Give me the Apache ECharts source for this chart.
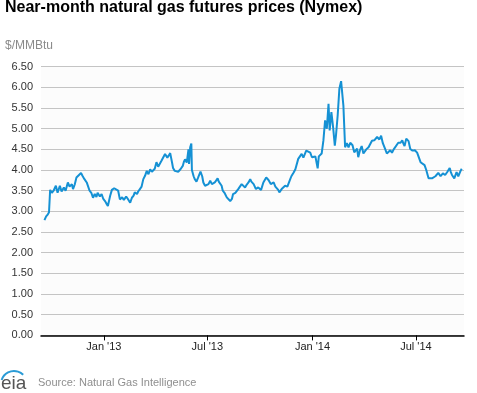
<!DOCTYPE html>
<html>
<head>
<meta charset="utf-8">
<script src="https://cdn.jsdelivr.net/npm/echarts@6/dist/echarts.min.js"></script>
<style>
html,body{margin:0;padding:0;background:#fff;}
#chart{width:477px;height:393px;}
</style>
</head>
<body>
<div id="chart"></div>
<script>
// Axis range (calendar days on the category axis)
const axisStart = '2012-09-13';
const axisEnd = '2014-09-23';
const yTicks = [0, 0.5, 1, 1.5, 2, 2.5, 3, 3.5, 4, 4.5, 5, 5.5, 6, 6.5];
const tickMonths = ['01', '07'];

// Series: near-month natural gas futures price, $/MMBtu
const dates = [
'2012-09-19','2012-09-22','2012-09-25','2012-09-27','2012-09-29','2012-10-02','2012-10-05','2012-10-09','2012-10-12','2012-10-16',
'2012-10-19','2012-10-23','2012-10-26','2012-10-30','2012-11-02','2012-11-06','2012-11-08','2012-11-11','2012-11-14','2012-11-17',
'2012-11-22','2012-11-25','2012-11-28','2012-12-02','2012-12-05','2012-12-07','2012-12-10','2012-12-13','2012-12-16','2012-12-19',
'2012-12-21','2012-12-25','2012-12-28','2012-12-31','2013-01-03','2013-01-05','2013-01-08','2013-01-12','2013-01-15','2013-01-19',
'2013-01-22','2013-01-26','2013-01-29','2013-02-02','2013-02-05','2013-02-09','2013-02-12','2013-02-16','2013-02-19','2013-02-22',
'2013-02-24','2013-02-28','2013-03-02','2013-03-05','2013-03-08','2013-03-11','2013-03-14','2013-03-17','2013-03-20','2013-03-23',
'2013-03-26','2013-03-28','2013-03-31','2013-04-03','2013-04-06','2013-04-08','2013-04-12','2013-04-15','2013-04-18','2013-04-22',
'2013-04-25','2013-04-27','2013-04-30','2013-05-02','2013-05-05','2013-05-08','2013-05-11','2013-05-15','2013-05-19','2013-05-21',
'2013-05-23','2013-05-26','2013-05-28','2013-05-29','2013-05-30','2013-06-01','2013-06-03','2013-06-04','2013-06-07','2013-06-09',
'2013-06-12','2013-06-15','2013-06-19','2013-06-22','2013-06-24','2013-06-27','2013-06-30','2013-07-03','2013-07-06','2013-07-09',
'2013-07-12','2013-07-14','2013-07-19','2013-07-21','2013-07-23','2013-07-26','2013-07-28','2013-07-31','2013-08-04','2013-08-07',
'2013-08-10','2013-08-13','2013-08-15','2013-08-19','2013-08-24','2013-08-27','2013-08-30','2013-09-02','2013-09-05','2013-09-08',
'2013-09-11','2013-09-14','2013-09-16','2013-09-20','2013-09-22','2013-09-24','2013-09-28','2013-10-03','2013-10-07','2013-10-12',
'2013-10-16','2013-10-20','2013-10-25','2013-10-28','2013-10-31','2013-11-02','2013-11-04','2013-11-08','2013-11-11','2013-11-14',
'2013-11-18','2013-11-23','2013-11-25','2013-11-29','2013-12-02','2013-12-05','2013-12-07','2013-12-09','2013-12-13','2013-12-16',
'2013-12-21','2013-12-24','2013-12-28','2013-12-31','2014-01-03','2014-01-06','2014-01-10','2014-01-12','2014-01-17','2014-01-20',
'2014-01-23','2014-01-26','2014-01-29','2014-01-31','2014-02-03','2014-02-06','2014-02-09','2014-02-11','2014-02-14','2014-02-17',
'2014-02-20','2014-02-22','2014-02-24','2014-02-27','2014-03-02','2014-03-05','2014-03-08','2014-03-12','2014-03-15','2014-03-20',
'2014-03-22','2014-03-25','2014-03-28','2014-03-31','2014-04-05','2014-04-09','2014-04-12','2014-04-15','2014-04-19','2014-04-24',
'2014-04-28','2014-05-01','2014-05-04','2014-05-08','2014-05-11','2014-05-14','2014-05-17','2014-05-20','2014-05-23','2014-05-26',
'2014-05-31','2014-06-04','2014-06-07','2014-06-09','2014-06-11','2014-06-14','2014-06-18','2014-06-21','2014-06-25','2014-06-29',
'2014-07-03','2014-07-06','2014-07-09','2014-07-12','2014-07-16','2014-07-19','2014-07-21','2014-07-23','2014-07-26','2014-07-29',
'2014-08-01','2014-08-04','2014-08-09','2014-08-13','2014-08-17','2014-08-21','2014-08-25','2014-08-29','2014-08-31','2014-09-02',
'2014-09-06','2014-09-10','2014-09-13','2014-09-17','2014-09-19'
];
const prices = [
2.79,2.88,2.93,2.98,3.52,3.45,3.50,3.62,3.45,3.62,
3.48,3.58,3.50,3.70,3.60,3.66,3.54,3.65,3.82,3.78,
3.93,3.85,3.78,3.70,3.72,3.50,3.45,3.33,3.42,3.35,
3.45,3.36,3.42,3.30,3.25,3.20,3.13,3.38,3.52,3.56,
3.54,3.50,3.29,3.34,3.28,3.36,3.30,3.21,3.33,3.38,
3.46,3.42,3.48,3.54,3.60,3.78,3.86,3.98,3.90,4.02,
3.96,3.93,4.03,4.19,4.08,4.05,4.23,4.25,4.39,4.30,
4.36,4.41,4.20,4.05,3.98,3.95,3.96,4.02,4.10,4.20,
4.26,4.18,4.22,4.50,4.15,4.55,4.64,4.00,3.85,3.78,
3.72,3.82,3.96,3.85,3.70,3.62,3.58,3.66,3.74,3.66,
3.70,3.70,3.80,3.72,3.72,3.62,3.50,3.45,3.34,3.30,
3.25,3.30,3.42,3.45,3.54,3.58,3.66,3.65,3.58,3.65,
3.70,3.78,3.72,3.66,3.62,3.54,3.58,3.52,3.70,3.82,
3.76,3.66,3.70,3.60,3.62,3.52,3.46,3.54,3.56,3.62,
3.60,3.78,3.85,3.94,4.02,4.00,4.27,4.27,4.39,4.30,
4.47,4.45,4.42,4.31,4.28,4.33,4.04,4.33,4.40,4.71,
5.20,5.00,5.60,4.96,5.40,5.04,4.59,4.83,5.32,5.97,
6.15,6.14,5.56,4.55,4.65,4.55,4.66,4.60,4.43,4.52,
4.31,4.48,4.58,4.40,4.50,4.55,4.63,4.71,4.72,4.80,
4.74,4.83,4.65,4.51,4.40,4.43,4.48,4.42,4.50,4.52,
4.66,4.66,4.72,4.64,4.58,4.76,4.70,4.51,4.47,4.48,
4.42,4.38,4.19,4.19,4.12,4.00,3.90,3.80,3.82,3.80,
3.83,3.85,3.93,3.85,3.92,3.88,3.96,4.05,3.95,3.88,
3.80,3.95,3.85,3.98,4.03
];

const monthNames = {'01':'Jan','07':'Jul'};

function dayList(a, b) {
  const out = [];
  const d = new Date(a + 'T00:00:00Z');
  const e = new Date(b + 'T00:00:00Z');
  while (d <= e) {
    out.push(d.toISOString().slice(0, 10));
    d.setUTCDate(d.getUTCDate() + 1);
  }
  return out;
}
const categories = dayList(axisStart, axisEnd);
function isTick(v) {
  return v.slice(8, 10) === '01' && tickMonths.indexOf(v.slice(5, 7)) >= 0;
}

const chart = echarts.init(document.getElementById('chart'), null, {renderer: 'canvas'});
const FONT = '"Liberation Sans", Arial, sans-serif';
chart.setOption({
  animation: false,
  textStyle: {fontFamily: FONT},
  title: {
    text: 'Near-month natural gas futures prices (Nymex)',
    left: 5, top: 0, padding: 0,
    textStyle: {fontFamily: FONT, fontSize: 16, fontWeight: 'bold', color: '#000'}
  },
  grid: {left: 41, right: 13, top: 66.7, bottom: 57.6, show: true, borderWidth: 0, backgroundColor: '#fcfcfc'},
  xAxis: {
    type: 'category',
    data: categories,
    boundaryGap: false,
    axisLine: {show: true, lineStyle: {color: '#000', width: 1.5}},
    axisTick: {show: true, length: 5, interval: (i, v) => isTick(v), lineStyle: {color: '#000', width: 1}},
    axisLabel: {
      interval: (i, v) => isTick(v),
      margin: 6,
      fontFamily: FONT, fontSize: 11, color: '#222',
      formatter: v => monthNames[v.slice(5, 7)] + " '" + v.slice(2, 4)
    },
    splitLine: {show: false}
  },
  yAxis: {
    type: 'value',
    min: yTicks[0], max: yTicks[yTicks.length - 1], interval: 0.5,
    axisLine: {show: false},
    axisTick: {show: false},
    axisLabel: {margin: 8, fontFamily: FONT, fontSize: 11, color: '#333', formatter: v => v.toFixed(2)},
    splitLine: {lineStyle: {color: '#c4c4c4', width: 1}}
  },
  series: [{
    type: 'line',
    data: dates.map((d, i) => [d, prices[i]]),
    showSymbol: false,
    lineStyle: {color: '#1591d4', width: 2},
    itemStyle: {color: '#1591d4'},
    z: 3
  }],
  graphic: [
    {type: 'text', left: 5, top: 40, style: {text: '$/MMBtu', fontFamily: FONT, fontSize: 12, fill: '#8a8a8a'}},
    {type: 'text', left: 38, top: 377, style: {text: 'Source: Natural Gas Intelligence', fontFamily: FONT, fontSize: 11, fill: '#8f8f8f'}},
    {type: 'text', left: 1, top: 374, style: {text: 'eia', fontFamily: FONT, fontSize: 19, fill: '#555', fontWeight: 'normal'}},
    {type: 'arc', shape: {cx: 14, cy: 384, r: 13, startAngle: Math.PI * 1.1, endAngle: Math.PI * 1.75}, style: {stroke: '#2a9bd6', lineWidth: 2, fill: null}}
  ]
});
</script>
</body>
</html>
